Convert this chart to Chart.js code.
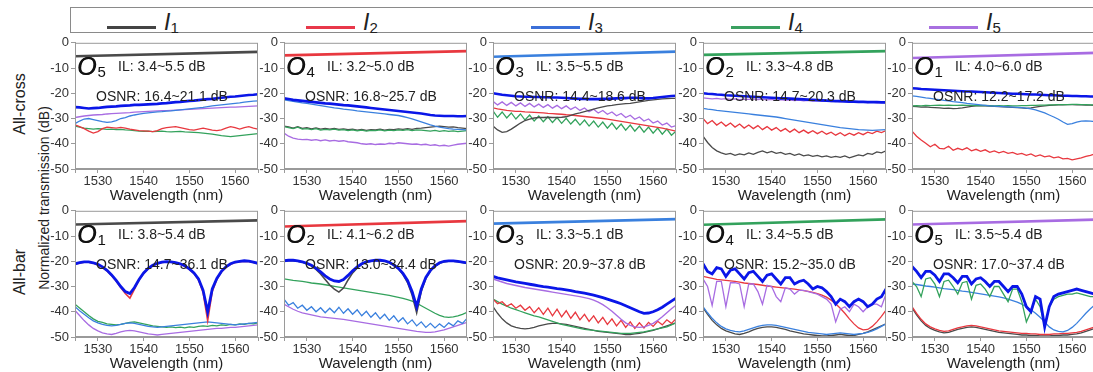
<!DOCTYPE html>
<html>
<head>
<meta charset="utf-8">
<script src="https://cdn.jsdelivr.net/npm/chart.js@4.4.1/dist/chart.umd.min.js"></script>
<style>
  html, body { margin: 0; padding: 0; background: #fff; }
  body { width: 1093px; height: 372px; position: relative; overflow: hidden; font-family: "Liberation Sans", Arial, sans-serif; color: #222; }
  .panel { position: absolute; }
  .legend { position: absolute; left: 70px; top: 7px; width: 1040px; height: 24px; border: 1px solid #8a8a8a; }
  .swatch { position: absolute; top: 18px; width: 49px; height: 3px; }
  .lab { position: absolute; top: 0px; font-style: italic; font-size: 23px; line-height: 28px; color: #222; }
  .lab sub { font-style: normal; font-size: 15px; vertical-align: -3px; }
  .rot { position: absolute; transform: translate(-50%, -50%) rotate(-90deg); white-space: nowrap; color: #222; }
</style>
</head>
<body>

<div class="legend" id="legend"></div>
<div class="rot" style="left:20px; top:104px; font-size:16px;">All-cross</div>
<div class="rot" style="left:20px; top:272px; font-size:16px;">All-bar</div>
<div class="rot" style="left:44px; top:198px; font-size:14px;">Normalized transmission (dB)</div>

<script>
// wavelength grid (nm)
const wl = [1525,1526,1527,1528,1529,1530,1531,1532,1533,1534,1535,1536,1537,1538,1539,1540,1541,1542,1543,1544,1545,
            1546,1547,1548,1549,1550,1551,1552,1553,1554,1555,1556,1557,1558,1559,1560,1561,1562,1563,1564,1565];
const wlEnds = [1525, 1565];
const xTicks = [1525, 1530, 1540, 1550, 1560, 1565];
const xLabels = [1530, 1540, 1550, 1560];
const yTicks = [0, -10, -20, -30, -40, -50];

const inputs = ['1', '2', '3', '4', '5'];
const outNames = ['5', '4', '3', '2', '1', '1', '2', '3', '4', '5'];
const ilRanges = ['3.4~5.5', '3.2~5.0', '3.5~5.5', '3.3~4.8', '4.0~6.0', '3.8~5.4', '4.1~6.2', '3.3~5.1', '3.4~5.5', '3.5~5.4'];
const osnrRanges = ['16.4~21.1', '16.8~25.7', '14.4~18.6', '14.7~20.3', '12.2~17.2', '14.7~36.1', '13.0~34.4', '20.9~37.8', '15.2~35.0', '17.0~37.4'];

// ---- All-cross, output O5 ----
const c5Top = [-5.3, -3.6];
const c5Dk = [-25.5,-25.6,-25.8,-26.0,-25.9, -25.8,-25.6,-25.4,-25.3,-25.2, -25.0,-24.9,-24.8,-24.6,-24.6, -24.5,-24.4,-24.3,-24.2,-24.0,
              -23.9,-23.7,-23.5,-23.4,-23.2, -23.0,-22.9,-22.7,-22.5,-22.3, -22.2,-22.0,-21.8,-21.6,-21.4, -21.3,-21.1,-20.9,-20.7,-20.6, -20.4];
const c5L3 = [-32.0,-31.0,-30.2,-30.0,-30.4, -30.8,-31.2,-31.5,-31.3,-30.8, -30.0,-29.6,-29.0,-28.6,-28.3, -28.0,-27.8,-27.6,-27.4,-27.3,
              -27.1,-27.0,-26.8,-26.6,-26.4, -26.2,-26.0,-25.8,-25.6,-25.3, -25.0,-24.8,-24.6,-24.4,-24.2, -24.0,-23.8,-23.5,-23.3,-23.1, -23.0];
const c5L5 = [-29.6,-29.3,-29.0,-28.8,-28.6, -28.5,-28.4,-28.2,-28.1,-28.0, -27.9,-27.8,-27.7,-27.5,-27.4, -27.3,-27.2,-27.1,-27.0,-26.9,
              -26.9,-26.8,-26.7,-26.6,-26.5, -26.4,-26.3,-26.2,-26.1,-26.0, -25.9,-25.8,-25.7,-25.6,-25.5, -25.5,-25.4,-25.3,-25.2,-25.1, -25.0];
const c5L2 = [-32.5,-33.2,-34.0,-35.0,-35.8, -35.2,-34.0,-33.4,-33.6,-33.8, -33.5,-33.8,-34.2,-34.5,-34.8, -34.9,-35.0,-35.2,-34.8,-34.0,
              -33.6,-33.4,-33.2,-33.6,-34.0, -34.4,-34.6,-34.2,-33.8,-34.2, -34.6,-34.8,-34.5,-33.8,-33.2, -33.6,-34.2,-33.6,-33.2,-33.8, -34.2];
const c5L4 = [-33.0,-33.4,-33.8,-34.0,-34.2, -34.0,-34.1,-34.3,-34.2,-34.4, -34.3,-34.5,-34.6,-34.8,-35.0, -35.1,-35.0,-35.2,-35.1,-35.0,
              -35.2,-35.3,-35.2,-35.1,-35.3, -35.4,-35.5,-35.6,-35.8,-36.0, -36.2,-36.5,-36.8,-37.0,-37.2, -37.0,-36.8,-36.6,-36.4,-36.2, -36.0];

// ---- All-cross, output O4 ----
const c4Top = [-5.0, -3.3];
const c4Dk = [-22.0,-22.3,-22.6,-22.8,-23.0, -23.2,-23.4,-23.6,-23.8,-24.0, -24.1,-24.3,-24.5,-24.7,-24.8, -25.0,-25.2,-25.4,-25.6,-25.8,
              -26.0,-26.2,-26.4,-26.6,-26.8, -27.0,-27.2,-27.4,-27.6,-27.8, -28.0,-28.3,-28.6,-28.8,-28.9, -29.0,-29.0,-29.0,-29.1,-29.1, -29.0];
const c4L3 = [-22.6,-22.9,-23.2,-23.5,-23.8, -24.0,-24.3,-24.6,-24.9,-25.2, -25.5,-25.8,-26.0,-26.3,-26.5, -26.7,-27.0,-27.2,-27.4,-27.6,
              -27.8,-28.0,-28.2,-28.4,-28.6, -28.8,-29.2,-29.6,-30.1,-30.7, -31.3,-31.9,-32.5,-33.0,-33.4, -33.7,-34.0,-34.2,-34.3,-34.4, -34.5];
const c4L4 = [-33.2,-33.6,-34.0,-33.4,-34.2, -34.0,-34.4,-34.0,-34.6,-34.3, -34.5,-34.2,-34.6,-34.4,-34.8, -34.5,-34.9,-34.6,-35.0,-34.7,
              -34.8,-34.5,-34.9,-34.6,-34.8, -34.5,-34.7,-34.4,-34.8,-34.5, -34.6,-34.8,-35.0,-34.7,-35.1, -34.8,-35.1,-34.9,-35.2,-35.0, -34.8];
const c4L1 = [-33.0,-33.3,-33.8,-33.2,-33.9, -33.6,-34.1,-33.7,-34.2,-33.9, -34.2,-33.9,-34.3,-34.1,-34.4, -34.2,-34.6,-34.3,-34.7,-34.4,
              -34.5,-34.2,-34.6,-34.3,-34.4, -34.1,-34.3,-34.0,-34.3,-33.9, -33.8,-33.6,-33.4,-33.2,-33.0, -33.2,-33.4,-33.3,-33.6,-33.8, -34.0];
const c4L5 = [-35.8,-37.0,-37.8,-38.2,-38.4, -38.3,-38.6,-38.4,-38.8,-38.5, -38.9,-38.7,-39.0,-38.8,-39.2, -39.4,-39.6,-40.0,-40.2,-40.0,
              -40.3,-40.1,-40.2,-39.8,-40.0, -39.6,-39.8,-40.0,-40.2,-40.1, -40.4,-40.2,-40.6,-40.4,-40.8, -40.6,-40.9,-40.5,-40.2,-40.0, -39.8];

// ---- All-cross, output O3 ----
const c3Top = [-5.5, -3.5];
const c3Dk = [-20.0,-20.3,-20.6,-20.8,-21.0, -21.2,-21.3,-21.4,-21.4,-21.5, -21.5,-21.6,-21.6,-21.7,-21.7, -21.8,-21.9,-22.0,-22.1,-22.2,
              -22.2,-22.3,-22.3,-22.3,-22.2, -22.2,-22.1,-22.0,-21.9,-21.9, -21.8,-21.8,-21.9,-22.0,-22.0, -21.9,-21.7,-21.5,-21.3,-21.1, -21.0];
const c3L1 = [-33.0,-34.5,-35.5,-35.2,-34.2, -33.0,-31.8,-30.8,-30.2,-29.8, -29.6,-29.6,-29.5,-29.6,-29.6, -29.5,-29.3,-28.8,-28.2,-27.8,
              -27.3,-26.8,-26.3,-25.8,-25.4, -25.0,-24.8,-24.5,-24.3,-24.1, -24.0,-23.7,-23.4,-23.1,-22.8, -22.6,-22.4,-22.2,-22.1,-22.0, -22.0];
const c3L5 = [-23.2,-24.6,-23.4,-24.8,-23.6, -25.0,-23.8,-25.2,-24.0,-25.4, -24.3,-25.6,-24.5,-25.9,-24.8, -26.1,-25.0,-26.4,-25.4,-26.8,
              -25.8,-27.3,-26.3,-27.8,-26.8, -28.3,-27.4,-28.9,-28.0,-29.6, -28.7,-30.3,-29.4,-31.0,-30.2, -31.8,-31.0,-32.6,-31.8,-33.4, -32.8];
const c3L2 = [-25.8,-26.2,-26.5,-26.8,-27.0, -27.2,-27.2,-27.4,-27.5,-27.6, -27.7,-27.8,-28.0,-28.1,-28.2, -28.3,-28.5,-28.6,-28.8,-29.0,
              -29.2,-29.4,-29.6,-29.8,-30.0, -30.2,-30.5,-30.8,-31.1,-31.4, -31.7,-32.0,-32.3,-32.6,-32.9, -33.2,-33.5,-33.8,-34.2,-34.6, -35.0];
const c3L4 = [-27.0,-29.5,-27.4,-29.8,-27.8, -30.2,-28.2,-30.6,-28.6,-31.0, -29.0,-31.3,-29.3,-31.6,-29.6, -31.9,-29.9,-32.2,-30.3,-32.6,
              -30.6,-33.0,-31.0,-33.4,-31.4, -33.8,-31.8,-34.2,-32.2,-34.6, -32.6,-35.0,-33.0,-35.4,-33.4, -35.8,-33.8,-36.2,-34.2,-36.6, -35.0];

// ---- All-cross, output O2 ----
const c2Top = [-4.8, -3.3];
const c2Dk = [-20.0,-20.2,-20.3,-20.5,-20.6, -20.8,-20.9,-21.0,-21.1,-21.2, -21.3,-21.4,-21.5,-21.6,-21.7, -21.8,-21.9,-22.0,-22.0,-22.1,
              -22.2,-22.3,-22.4,-22.5,-22.6, -22.7,-22.8,-22.9,-23.0,-23.1, -23.1,-23.2,-23.3,-23.3,-23.4, -23.4,-23.5,-23.5,-23.5,-23.6, -23.6];
const c2L5 = [-21.8,-22.0,-22.2,-22.0,-22.3, -22.1,-22.4,-22.2,-22.5,-22.3, -22.4,-22.2,-22.5,-22.3,-22.6, -22.4,-22.7,-22.5,-22.8,-22.6,
              -22.9,-22.7,-23.0,-22.8,-23.1, -22.9,-23.2,-23.0,-23.3,-23.1, -23.4,-23.2,-23.5,-23.3,-23.6, -23.4,-23.7,-23.5,-23.8,-23.6, -23.9];
const c2L3 = [-26.0,-26.3,-26.5,-26.8,-27.0, -27.2,-27.4,-27.6,-27.8,-28.0, -28.2,-28.4,-28.6,-28.8,-29.0, -29.2,-29.4,-29.7,-30.0,-30.3,
              -30.6,-30.9,-31.2,-31.5,-31.8, -32.1,-32.4,-32.7,-33.0,-33.3, -33.6,-33.8,-34.0,-34.2,-34.4, -34.5,-34.6,-34.7,-34.6,-34.5, -34.4];
const c2L2 = [-30.0,-32.0,-30.8,-32.6,-31.4, -33.0,-31.8,-33.4,-32.2,-33.8, -32.6,-34.0,-32.8,-34.4,-33.2, -34.6,-33.6,-35.0,-34.0,-35.4,
              -34.2,-35.6,-34.6,-35.8,-34.8, -36.0,-35.0,-36.2,-35.4,-36.6, -35.6,-36.8,-35.8,-36.6,-35.6, -36.4,-35.4,-36.0,-35.0,-35.6, -34.8];
const c2L1 = [-37.0,-39.5,-41.5,-42.8,-43.6, -44.2,-43.8,-44.6,-44.0,-44.4, -43.6,-44.2,-43.4,-42.8,-43.6, -43.0,-43.8,-43.4,-44.2,-43.8,
              -44.6,-44.0,-44.8,-44.4,-45.0, -44.6,-45.2,-44.8,-45.4,-45.0, -45.4,-44.8,-45.6,-45.0,-44.4, -44.8,-43.8,-44.2,-43.2,-43.6, -42.8];

// ---- All-cross, output O1 ----
const c1Top = [-6.0, -4.0];
const c1Dk = [-18.0,-18.1,-18.3,-18.4,-18.5, -18.6,-18.7,-18.8,-18.9,-19.0, -19.1,-19.2,-19.3,-19.3,-19.4, -19.5,-19.6,-19.7,-19.8,-19.9,
              -20.0,-20.1,-20.2,-20.2,-20.3, -20.4,-20.5,-20.5,-20.6,-20.7, -20.8,-20.8,-20.9,-21.0,-21.0, -21.1,-21.1,-21.2,-21.2,-21.3, -21.3];
const c1L3 = [-21.0,-21.2,-21.5,-21.8,-22.0, -22.3,-22.5,-22.8,-23.0,-23.3, -23.5,-23.7,-24.0,-24.2,-24.4, -24.6,-24.8,-25.0,-25.1,-25.2,
              -25.3,-25.4,-25.5,-25.6,-25.7, -25.9,-26.2,-26.6,-27.2,-27.8, -28.6,-29.4,-30.3,-31.4,-32.3, -32.0,-31.4,-31.0,-30.9,-31.0, -31.2];
const c1L4 = [-25.0,-24.9,-25.0,-24.8,-24.9, -24.8,-24.7,-24.8,-24.7,-24.8, -24.8,-24.7,-24.8,-24.8,-24.9, -24.9,-24.8,-24.9,-25.0,-24.9,
              -25.0,-24.9,-25.0,-25.0,-24.9, -24.9,-24.8,-24.8,-24.7,-24.7, -24.6,-24.6,-24.5,-24.5,-24.5, -24.4,-24.4,-24.5,-24.5,-24.6, -24.6];
const c1L1 = [-25.2,-25.3,-25.5,-25.4,-25.6, -25.7,-25.8,-26.0,-25.9,-26.1, -26.0,-25.8,-25.5,-25.2,-25.0, -24.9,-25.0,-25.1,-25.2,-25.3,
              -25.4,-25.5,-25.6,-25.7,-25.8, -26.0,-25.8,-25.5,-25.2,-25.0, -24.8,-24.7,-24.6,-24.6,-24.5, -24.5,-24.6,-24.6,-24.7,-24.7, -24.8];
const c1L2 = [-35.0,-37.0,-38.5,-39.8,-41.2, -40.2,-41.8,-42.0,-41.0,-42.6, -41.8,-42.4,-41.6,-42.8,-42.2, -43.0,-42.4,-43.4,-42.8,-43.6,
              -43.0,-43.8,-43.4,-44.2,-43.8, -44.6,-44.0,-45.0,-44.4,-45.2, -44.8,-45.6,-45.2,-46.0,-45.8, -46.4,-46.0,-45.6,-45.0,-44.6, -44.0];

// ---- All-bar, output O1 ----
const b1Top = [-5.4, -3.8];
const b1Dk = [-21.0,-20.5,-20.2,-20.2,-20.6, -21.2,-22.2,-23.6,-25.4,-27.6, -30.0,-32.0,-32.8,-30.4,-27.2, -24.6,-22.8,-21.6,-20.8,-20.3,
              -20.1,-20.2,-20.5,-21.0,-21.8, -23.0,-24.6,-27.0,-31.5,-40.0, -31.0,-26.8,-24.0,-22.2,-21.0, -20.3,-20.0,-19.8,-19.9,-20.3, -20.8];
const b1L2 = [-21.2,-20.7,-20.4,-20.4,-20.8, -21.4,-22.4,-23.8,-25.6,-27.8, -30.4,-32.8,-34.6,-31.0,-27.4, -24.8,-23.0,-21.8,-21.0,-20.5,
              -20.3,-20.4,-20.7,-21.2,-22.0, -23.2,-24.8,-27.4,-32.4,-43.5, -32.0,-27.2,-24.2,-22.4,-21.2, -20.5,-20.2,-20.0,-20.1,-20.5, -21.0];
const b1L4 = [-37.0,-38.5,-40.0,-41.5,-42.8, -43.8,-44.2,-44.8,-45.0,-45.2, -45.0,-44.6,-44.2,-44.0,-44.4, -44.8,-45.2,-45.6,-45.8,-46.0,
              -46.2,-46.0,-46.3,-46.1,-46.4, -46.0,-46.2,-45.8,-45.6,-45.8, -45.4,-45.6,-45.2,-45.4,-45.0, -45.2,-44.8,-45.0,-44.6,-44.8, -44.4];
const b1L3 = [-38.0,-39.6,-41.0,-42.4,-43.6, -44.4,-45.0,-45.4,-45.6,-45.4, -45.0,-44.6,-44.4,-44.6,-45.0, -45.4,-45.8,-46.0,-46.2,-46.0,
              -45.8,-45.6,-45.4,-45.2,-45.0, -44.8,-44.6,-44.4,-44.2,-44.0, -44.2,-44.4,-44.6,-44.8,-45.0, -45.2,-45.0,-44.8,-44.6,-44.4, -44.2];
const b1L5 = [-39.5,-41.5,-43.5,-45.2,-46.6, -47.6,-48.4,-48.8,-49.0,-48.6, -48.0,-47.6,-47.4,-47.6,-48.0, -48.4,-48.8,-49.0,-49.2,-49.0,
              -48.8,-48.6,-48.4,-48.2,-48.0, -47.8,-47.6,-47.4,-47.2,-47.0, -46.8,-46.6,-46.6,-46.4,-46.2, -46.2,-46.0,-45.8,-45.6,-45.4, -45.2];

// ---- All-bar, output O2 ----
const b2Top = [-6.2, -4.1];
const b2Dk = [-19.8,-19.6,-19.6,-19.8,-20.2, -20.8,-21.6,-22.8,-24.2,-25.8, -27.0,-27.8,-28.0,-27.2,-25.6, -23.8,-22.2,-21.0,-20.2,-19.8,
              -19.6,-19.6,-19.8,-20.4,-21.4, -22.8,-24.8,-27.6,-32.0,-38.0, -31.0,-26.4,-23.6,-21.8,-20.6, -20.0,-19.8,-19.8,-20.0,-20.3, -20.6];
const b2L1 = [-20.0,-19.8,-19.8,-20.0,-20.4, -21.0,-21.8,-23.2,-25.0,-27.2, -29.4,-31.0,-32.2,-30.6,-27.4, -24.6,-22.6,-21.2,-20.4,-20.0,
              -19.8,-19.8,-20.0,-20.6,-21.6, -23.0,-25.2,-28.4,-33.4,-40.4, -32.0,-26.8,-23.8,-22.0,-20.8, -20.2,-20.0,-20.0,-20.2,-20.5, -20.8];
const b2L4 = [-27.0,-27.3,-27.6,-27.8,-28.0, -28.3,-28.6,-28.8,-29.0,-29.3, -29.6,-29.9,-30.2,-30.5,-30.8, -31.1,-31.4,-31.7,-32.0,-32.3,
              -32.6,-32.9,-33.2,-33.5,-33.9, -34.3,-34.7,-35.2,-35.8,-36.6, -37.6,-38.6,-39.6,-40.6,-41.4, -42.0,-42.2,-42.0,-41.6,-41.0, -40.2];
const b2L3 = [-35.0,-37.4,-36.4,-38.6,-37.4, -39.4,-38.0,-40.0,-38.4,-40.4, -38.6,-40.4,-38.2,-40.6,-38.8, -41.0,-39.2,-41.6,-39.8,-42.2,
              -40.4,-42.8,-41.0,-43.4,-41.6, -44.0,-42.4,-44.8,-43.2,-45.6, -44.0,-46.2,-44.6,-46.4,-44.8, -46.2,-44.4,-45.6,-43.6,-44.6, -42.6];
const b2L5 = [-37.0,-38.0,-39.0,-39.8,-40.4, -40.8,-41.2,-41.6,-42.0,-42.2, -42.4,-42.6,-42.8,-43.0,-43.3, -43.6,-43.9,-44.2,-44.5,-44.8,
              -45.1,-45.4,-45.7,-46.0,-46.3, -46.6,-46.9,-47.2,-47.5,-47.8, -48.0,-48.2,-48.2,-48.0,-47.6, -47.2,-46.6,-46.0,-45.4,-44.8, -44.2];

// ---- All-bar, output O3 ----
const b3Top = [-5.1, -3.3];
const b3Dk = [-26.0,-26.6,-27.0,-27.4,-27.8, -28.2,-28.5,-28.8,-29.1,-29.4, -29.7,-30.0,-30.2,-30.5,-30.8, -31.0,-31.3,-31.6,-32.0,-32.3,
              -32.6,-33.0,-33.4,-33.9,-34.4, -35.0,-35.6,-36.2,-36.8,-37.6, -38.4,-39.2,-40.0,-40.6,-40.5, -40.0,-39.2,-38.2,-37.0,-35.8, -34.6];
const b3L5 = [-27.0,-27.6,-28.2,-28.8,-29.2, -29.6,-30.0,-30.4,-30.7,-31.0, -31.3,-31.6,-31.9,-32.2,-32.5, -32.8,-33.1,-33.4,-33.7,-34.0,
              -34.4,-34.8,-35.4,-36.2,-37.2, -38.4,-39.8,-41.4,-43.0,-44.4, -45.4,-46.0,-46.2,-46.0,-45.4, -44.6,-43.4,-42.0,-40.4,-38.8, -37.4];
const b3L2 = [-35.0,-36.8,-36.0,-37.8,-36.8, -38.6,-37.4,-39.4,-38.0,-40.4, -38.4,-41.0,-38.6,-41.6,-39.0, -42.0,-39.6,-42.6,-40.2,-43.2,
              -41.0,-43.8,-41.6,-44.4,-42.2, -45.0,-42.8,-45.6,-43.4,-46.2, -44.0,-46.6,-44.4,-46.4,-44.2, -45.8,-43.8,-45.2,-43.2,-44.6, -42.8];
const b3L4 = [-35.0,-36.0,-37.0,-37.8,-38.6, -39.2,-39.8,-40.4,-41.0,-41.6, -42.0,-42.6,-43.2,-43.8,-44.4, -45.0,-45.4,-45.8,-46.2,-46.6,
              -47.0,-47.2,-47.4,-47.6,-47.8, -48.0,-48.2,-48.4,-48.6,-48.6, -48.6,-48.4,-48.2,-48.0,-47.6, -47.2,-46.8,-46.4,-46.0,-45.2, -44.4];
const b3L1 = [-38.0,-40.6,-42.8,-44.4,-45.6, -46.2,-46.6,-46.8,-46.6,-46.2, -45.6,-45.2,-44.8,-44.6,-44.6, -44.8,-45.0,-45.4,-45.8,-46.2,
              -46.6,-47.0,-47.4,-47.8,-48.0, -48.2,-48.4,-48.6,-48.8,-49.0, -49.0,-48.8,-48.6,-48.2,-47.8, -47.4,-46.8,-46.2,-45.6,-45.0, -44.4];

// ---- All-bar, output O4 ----
const b4Top = [-5.5, -3.4];
const b4Dk = [-21.0,-24.0,-25.0,-22.5,-23.0, -26.0,-23.5,-23.0,-25.0,-27.0, -24.5,-24.0,-26.0,-28.0,-25.5, -25.0,-27.0,-29.0,-26.5,-26.5,
              -29.0,-28.0,-27.5,-29.0,-31.0, -30.0,-30.5,-32.0,-34.0,-37.0, -35.0,-36.0,-38.0,-36.0,-35.0, -36.0,-38.0,-37.0,-35.0,-34.0, -31.0];
const b4L5 = [-27.0,-30.0,-37.5,-28.0,-28.0, -38.0,-28.5,-28.5,-29.0,-38.0, -29.0,-29.0,-32.0,-37.0,-29.5, -30.0,-34.0,-36.0,-30.5,-31.0,
              -33.0,-31.5,-31.5,-32.0,-32.5, -33.0,-34.0,-35.0,-37.0,-44.0, -39.0,-38.0,-40.0,-37.0,-38.0, -40.0,-38.0,-37.0,-37.0,-38.0, -33.0];
const b4L2 = [-26.0,-26.4,-26.8,-27.2,-27.4, -27.6,-27.8,-28.0,-28.3,-28.6, -28.8,-29.0,-29.2,-29.5,-29.8, -30.0,-30.2,-30.4,-30.6,-30.8,
              -31.0,-31.3,-31.6,-31.9,-32.3, -32.8,-33.4,-34.2,-35.4,-36.8, -38.6,-40.6,-42.8,-44.8,-46.4, -47.2,-47.0,-45.8,-44.0,-41.8, -39.4];
const b4L3 = [-38.0,-40.4,-42.6,-44.4,-45.8, -46.8,-47.4,-47.8,-48.0,-47.6, -47.0,-46.4,-45.8,-45.4,-45.2, -45.2,-45.4,-45.8,-46.2,-46.6,
              -47.0,-47.4,-47.8,-48.2,-48.4, -48.6,-48.8,-49.0,-48.8,-48.6, -48.4,-48.6,-48.8,-49.0,-48.8, -48.6,-48.2,-47.6,-46.8,-45.8, -44.8];
const b4L1 = [-38.4,-41.0,-43.4,-45.2,-46.6, -47.6,-48.2,-48.8,-49.0,-48.6, -48.0,-47.2,-46.6,-46.2,-46.0, -46.0,-46.2,-46.6,-47.0,-47.6,
              -48.0,-48.4,-48.8,-49.0,-49.2, -49.4,-49.6,-49.6,-49.4,-49.2, -49.0,-49.2,-49.4,-49.4,-49.0, -48.6,-48.0,-47.2,-46.4,-45.6, -44.8];

// ---- All-bar, output O5 ----
const b5Top = [-5.4, -3.5];
const b5Dk = [-22.0,-24.0,-26.5,-24.0,-24.0, -25.5,-28.0,-25.0,-25.0,-26.5, -28.5,-26.0,-26.0,-29.0,-27.0, -26.5,-28.0,-30.0,-28.0,-28.0,
              -30.0,-32.0,-30.0,-30.0,-33.0, -38.0,-40.0,-34.0,-35.0,-46.0, -38.0,-34.0,-33.0,-32.5,-32.0, -31.5,-31.0,-31.5,-32.0,-32.5, -33.0];
const b5L4 = [-28.0,-30.0,-34.0,-27.0,-26.5, -29.0,-34.0,-28.0,-27.5,-30.0, -33.0,-28.5,-28.0,-35.0,-29.5, -29.0,-31.0,-34.0,-30.0,-30.0,
              -33.0,-36.0,-31.0,-31.0,-36.0, -44.0,-40.0,-35.0,-38.0,-46.0, -38.0,-35.0,-34.0,-33.5,-33.0, -33.0,-32.5,-33.0,-33.5,-34.0, -34.0];
const b5L3 = [-29.0,-29.2,-29.5,-29.8,-30.0, -30.2,-30.5,-30.8,-31.0,-31.2, -31.5,-31.8,-32.0,-32.3,-32.6, -32.9,-33.2,-33.5,-33.8,-34.1,
              -34.5,-35.0,-35.6,-36.2,-37.0, -38.0,-39.2,-40.6,-42.2,-44.0, -46.0,-47.2,-47.8,-48.0,-47.4, -46.2,-44.6,-42.6,-40.6,-38.8, -37.2];
const b5L2 = [-38.0,-40.6,-43.0,-44.8,-46.0, -46.8,-47.4,-47.8,-47.6,-47.0, -46.4,-46.0,-45.6,-45.4,-45.6, -46.0,-46.4,-46.8,-47.2,-47.6,
              -47.8,-48.0,-48.2,-48.4,-48.6, -48.6,-48.8,-48.8,-49.0,-49.0, -49.0,-48.8,-48.8,-48.6,-48.6, -48.4,-48.2,-47.8,-47.2,-46.6, -46.0];
const b5L1 = [-38.4,-41.2,-43.6,-45.4,-46.6, -47.4,-48.0,-48.4,-48.2,-47.6, -47.0,-46.6,-46.2,-46.0,-46.2, -46.6,-47.0,-47.4,-47.8,-48.2,
              -48.4,-48.6,-48.8,-49.0,-49.2, -49.2,-49.4,-49.4,-49.6,-49.6, -49.6,-49.4,-49.4,-49.2,-49.2, -49.0,-48.8,-48.4,-47.8,-47.2, -46.6];

const FONT = '"Liberation Sans", Arial, sans-serif';
const col = {
    l1: '#4a4a4a',
    l2: '#e8383f',
    l3: '#3a80de',
    l4: '#33a25c',
    l5: '#a86ce2',
    dk: '#0a16e8'
};
const legendCol = ['#444444', '#e8384a', '#3b6fd8', '#3aa060', '#a870e0'];

// legend row (html)
const legendX = [36, 235, 460, 660, 858];
const legend = document.getElementById('legend');
inputs.forEach(function(n, i) {
    const sw = document.createElement('div');
    sw.className = 'swatch';
    sw.style.left = legendX[i] + 'px';
    sw.style.background = legendCol[i];
    legend.appendChild(sw);
    const lb = document.createElement('div');
    lb.className = 'lab';
    lb.style.left = (legendX[i] + 57) + 'px';
    lb.innerHTML = 'I<sub>' + n + '</sub>';
    legend.appendChild(lb);
});

function pts(xs, ys) {
    return xs.map(function(x, i) { return { x: x, y: ys[i] }; });
}

// [color, values, width]; first entries end up on top
const panels = [
    { top: [col.l1, c5Top], lines: [[col.dk, c5Dk, 2.6], [col.l3, c5L3], [col.l5, c5L5], [col.l2, c5L2], [col.l4, c5L4]] },
    { top: [col.l2, c4Top], lines: [[col.dk, c4Dk, 2.6], [col.l3, c4L3], [col.l4, c4L4], [col.l1, c4L1], [col.l5, c4L5]] },
    { top: [col.l3, c3Top], lines: [[col.dk, c3Dk, 2.6], [col.l1, c3L1], [col.l5, c3L5], [col.l2, c3L2], [col.l4, c3L4]] },
    { top: [col.l4, c2Top], lines: [[col.dk, c2Dk, 2.6], [col.l5, c2L5], [col.l3, c2L3], [col.l2, c2L2], [col.l1, c2L1]] },
    { top: [col.l5, c1Top], lines: [[col.dk, c1Dk, 2.6], [col.l3, c1L3], [col.l4, c1L4], [col.l1, c1L1], [col.l2, c1L2]] },
    { top: [col.l1, b1Top], lines: [[col.dk, b1Dk, 2.8], [col.l2, b1L2, 1.6], [col.l3, b1L3], [col.l4, b1L4], [col.l5, b1L5]] },
    { top: [col.l2, b2Top], lines: [[col.dk, b2Dk, 2.8], [col.l1, b2L1, 1.6], [col.l4, b2L4], [col.l3, b2L3], [col.l5, b2L5]] },
    { top: [col.l3, b3Top], lines: [[col.dk, b3Dk, 2.8], [col.l5, b3L5, 1.4], [col.l2, b3L2], [col.l4, b3L4], [col.l1, b3L1]] },
    { top: [col.l4, b4Top], lines: [[col.dk, b4Dk, 2.8], [col.l5, b4L5], [col.l2, b4L2], [col.l3, b4L3], [col.l1, b4L1]] },
    { top: [col.l5, b5Top], lines: [[col.dk, b5Dk, 2.8], [col.l4, b5L4], [col.l3, b5L3], [col.l2, b5L2], [col.l1, b5L1]] }
];

// frame + in-panel labels
const panelText = {
    id: 'panelText',
    afterDraw: function(chart, args, opts) {
        const ctx = chart.ctx;
        const a = chart.chartArea;
        ctx.save();
        ctx.strokeStyle = '#9a9a9a';
        ctx.lineWidth = 1;
        ctx.strokeRect(a.left + 0.5, a.top + 0.5, a.width - 1, a.height - 1);
        ctx.fillStyle = '#111';
        ctx.textBaseline = 'alphabetic';
        ctx.font = 'italic 25px ' + FONT;
        ctx.fillText('O', a.left + 2, a.top + 32);
        ctx.fillText('O', a.left + 2.6, a.top + 32);
        const w = ctx.measureText('O').width;
        ctx.font = '15px ' + FONT;
        ctx.fillText(opts.out, a.left + 3 + w, a.top + 34);
        ctx.fillStyle = '#222';
        ctx.font = '14px ' + FONT;
        ctx.fillText('IL: ' + opts.il + ' dB', a.left + 43, a.top + 28);
        ctx.fillText('OSNR: ' + opts.osnr + ' dB', a.left + 21, a.top + 58);
        ctx.restore();
    }
};

const plotLeft = [75, 284, 493, 703, 912];
const plotTop = [39, 207];

panels.forEach(function(p, k) {
    const row = k < 5 ? 0 : 1;
    const c = k % 5;
    const box = document.createElement('div');
    box.className = 'panel';
    box.style.left = (plotLeft[c] - 34) + 'px';
    box.style.top = (plotTop[row] - 6) + 'px';
    const cv = document.createElement('canvas');
    cv.width = 221;
    cv.height = 172;
    box.appendChild(cv);
    document.body.appendChild(box);

    const datasets = [{
        data: pts(wlEnds, p.top[1]),
        borderColor: p.top[0],
        borderWidth: 2.6
    }];
    p.lines.forEach(function(l) {
        datasets.push({
            data: pts(wl, l[1]),
            borderColor: l[0],
            borderWidth: l[2] || 1.3
        });
    });

    new Chart(cv.getContext('2d'), {
        type: 'line',
        data: { datasets: datasets },
        options: {
            responsive: false,
            animation: false,
            devicePixelRatio: 1,
            layout: { padding: { top: 6, right: 4, left: 0, bottom: 0 } },
            elements: { point: { radius: 0 }, line: { tension: 0 } },
            plugins: {
                legend: { display: false },
                tooltip: { enabled: false },
                panelText: { out: outNames[k], il: ilRanges[k], osnr: osnrRanges[k] }
            },
            scales: {
                x: {
                    type: 'linear',
                    min: 1525,
                    max: 1565,
                    afterBuildTicks: function(s) { s.ticks = xTicks.map(function(v) { return { value: v }; }); },
                    afterFit: function(s) { s.height = 36; },
                    grid: { drawOnChartArea: false, tickLength: 4, color: '#9a9a9a' },
                    border: { color: '#9a9a9a' },
                    ticks: {
                        autoSkip: false,
                        maxRotation: 0,
                        padding: 1,
                        color: '#333',
                        font: { family: FONT, size: 13 },
                        callback: function(v) { return xLabels.indexOf(v) >= 0 ? String(v) : ''; }
                    },
                    title: { display: true, text: 'Wavelength (nm)', color: '#222', font: { family: FONT, size: 15 }, padding: 0 }
                },
                y: {
                    min: -50,
                    max: 0,
                    afterBuildTicks: function(s) { s.ticks = yTicks.map(function(v) { return { value: v }; }); },
                    afterFit: function(s) { s.width = 34; },
                    grid: { drawOnChartArea: false, tickLength: 4, color: '#9a9a9a' },
                    border: { color: '#9a9a9a' },
                    ticks: { padding: 2, color: '#333', font: { family: FONT, size: 13 } }
                }
            }
        },
        plugins: [panelText]
    });
});
</script>
</body>
</html>
